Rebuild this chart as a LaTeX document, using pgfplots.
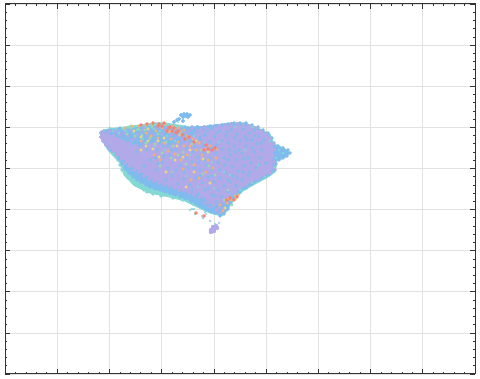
\documentclass[border=0pt]{standalone}
\usepackage{pgfplots}
\pgfplotsset{compat=1.18}
\definecolor{lil}{HTML}{B2A9E8}
\definecolor{blu}{HTML}{7FBBEE}
\definecolor{tea}{HTML}{84DAD2}
\definecolor{ora}{HTML}{F8B172}
\definecolor{red2}{HTML}{F87F72}
\definecolor{yel}{HTML}{EFD97C}
\definecolor{gre}{HTML}{9FDBA8}
\definecolor{gridc}{HTML}{E2E2E2}
\definecolor{axc}{HTML}{333333}
\begin{document}
\begin{tikzpicture}[x=1pt,y=1pt]
\path[use as bounding box] (-5,-5) rectangle (475,374);
\begin{axis}[
 at={(0pt,0pt)},anchor=south west,
 scale only axis,width=470pt,height=370pt,
 xmin=5,xmax=475,ymin=4,ymax=374,y dir=reverse,
 xtick={5,57.2,109.4,161.7,213.9,266.1,318.3,370.6,422.8,475},
 ytick={4,45.1,86.2,127.3,168.4,209.6,250.7,291.8,332.9,374},
 minor xtick={15.4,25.9,36.3,46.8,67.7,78.1,88.6,99,119.9,130.3,140.8,151.2,172.1,182.6,193,203.4,224.3,234.8,245.2,255.7,276.5,287,297.4,307.9,328.8,339.2,349.7,360.1,381,391.4,401.9,412.3,433.2,443.7,454.1,464.6},
 minor ytick={12.2,20.4,28.7,36.9,53.3,61.6,69.8,78,94.4,102.7,110.9,119.1,135.6,143.8,152,160.2,176.7,184.9,193.1,201.3,217.8,226,234.2,242.4,258.9,267.1,275.3,283.6,300,308.2,316.4,324.7,341.1,349.3,357.6,365.8},
 xticklabels={},yticklabels={},
 tick align=inside,
 major tick length=5pt,minor tick length=2.4pt,
 tick style={axc,line width=0.7pt},
 minor tick style={axc,line width=0.7pt},
 xtick pos=both,ytick pos=both,
 grid=major,major grid style={gridc,line width=0.7pt},
 axis line style={axc,line width=1pt},
 clip=false,
]
% outer teal body
\addplot[fill=tea,draw=tea,line width=1pt,line join=round] coordinates {
(100,132)(108,129)(125,127)(140,125)(155,123)(165,123)(178,125)(190,127)(200,127)(215,125)(230,123)(245,123)(258,128)(270,134)(274,144)(284,148)(290,153)(286,157)(277,161)(275,172)(268,177)(255,184)(243,191)(232,202)(227,211)(222,216)(210,213)(195,206)(185,201)(170,197)(150,193)(135,186)(124,175)(120,163)(108,150)(102,140)} -- cycle;
\addplot[only marks,mark=*,mark size=1.5pt,mark options={tea,draw=none}] coordinates {
(118,160)(120,165)(122,170)(125,174)(128,178)(132,182)(136,185)(140,187)(144,190)(149,191)(153,194)(158,193)(163,195)(168,195)(173,198)(178,197)(183,200)(188,201)(193,204)(116,156)(113,153)(122,166)(127,176)(134,184)(142,188)(147,192)(156,192)(161,196)(171,196)(181,199)};
% blue body
\addplot[fill=blu,draw=blu,line width=1pt,line join=round] coordinates {
(101,131)(115,129)(135,128)(155,126)(178,128)(200,127)(215,125)(230,124)(245,124)(258,129)(269,135)(273,145)(284,149)(289,153)(285,156)(276,160)(274,171)(267,176)(254,183)(242,190)(231,201)(227,210)(222,215)(210,212)(195,204)(180,197)(165,192)(150,187)(136,179)(125,169)(120,160)(108,149)(102,139)} -- cycle;
\addplot[only marks,mark=*,mark size=1.5pt,mark options={blu,draw=none}] coordinates {
(119,159)(122,164)(125,169)(129,173)(133,177)(137,180)(141,182)(146,185)(150,187)(155,189)(160,190)(165,192)(170,193)(175,195)(180,197)(185,198)(190,200)(195,203)(200,206)(205,208)(210,210)(215,213)(220,216)(224,214)(228,209)(231,203)(235,197)(240,192)(246,188)(252,184)(259,180)(265,177)(270,174)(275,170)(276,164)(279,160)(283,158)(287,156)(290,153)(288,150)(283,148)(278,146)(274,143)(272,138)(268,133)(263,130)(258,127)(252,125)(246,123)(240,123)(234,123)(228,124)(222,125)(216,126)(210,126)(204,127)(198,127)(192,127)};
% lilac body
\addplot[fill=lil,draw=lil,line width=1pt,line join=round] coordinates {
(101,133)(112,136)(125,141)(140,146)(155,142)(172,145)(190,138)(205,130)(220,127)(235,126)(248,127)(260,131)(269,137)(273,147)(272,158)(272,170)(264,175)(252,181)(240,188)(230,195)(222,205)(212,204)(200,195)(186,191)(170,185)(155,180)(142,172)(130,165)(120,156)(112,148)(102,139)} -- cycle;
\addplot[only marks,mark=*,mark size=1.9pt,mark options={lil,draw=none}] coordinates {
(101,133)(101,137)(103,141)(106,145)(110,148)(113,151)(117,155)(121,159)(125,163)(129,166)(134,170)(139,172)(144,176)(149,179)(154,181)(159,183)(164,185)(169,186)(174,188)(179,190)(184,191)(189,193)(194,195)(199,197)(204,200)(209,203)(214,205)(219,208)(223,209)(227,203)(230,197)(235,192)(240,188)(246,185)(252,182)(258,179)(264,176)(270,173)(274,168)(274,162)(273,156)(274,150)(273,144)(270,139)(266,134)(261,131)(255,128)(249,126)(243,125)(237,124)(231,124)(225,125)(219,126)(213,127)(207,129)(201,130)(104,131)(108,133)(113,136)(118,139)(212,207)(216,210)(220,212)(209,206)(205,203)};
% tail and stray points
\addplot[only marks,mark=*,mark size=2pt,mark options={lil,draw=none}] coordinates {
(213,227)(216,226)(211,230)(214,229)(217,228)(211,232)(214,231)};
\addplot[only marks,mark=*,mark size=1.8pt,mark options={blu,draw=none}] coordinates {
(181,115)(184,114)(187,114)(190,115)(186,116)(183,117)(188,117)(179,119)(177,120)(174,122)(183,121)};
\addplot[only marks,mark=*,mark size=1.2pt,mark options={blu,draw=none,opacity=0.6}] coordinates {
(192,209)(205,212)(203,218)(210,221)(219,223)};
\addplot[only marks,mark=*,mark size=1.2pt,mark options={tea,draw=none,opacity=0.7}] coordinates {
(195,214)(202,216)(215,224)(178,122)(171,125)(190,210)(194,209)(206,214)};
% top-left mottling
\addplot[only marks,mark=*,mark size=1.6pt,mark options={blu,draw=none,opacity=0.85}] coordinates {
(106,131)(111,133)(117,131)(122,135)(128,133)(133,137)(139,135)(145,138)(151,134)(157,137)(163,133)(169,138)(175,134)(181,138)(187,132)(193,135)(199,131)(205,135)(211,129)(143,130)(135,129)(149,129)(155,132)(161,128)(167,130)(173,128)(179,130)(185,127)(191,130)(197,127)(126,130)(120,128)(152,141)(160,143)(168,146)(176,142)(184,141)(192,141)(200,137)(146,146)(136,142)};
\addplot[only marks,mark=*,mark size=1.8pt,mark options={lil,draw=none,opacity=0.85}] coordinates {
(110,130)(118,132)(124,133)(131,130)(138,134)(144,128)(150,132)(156,129)(162,134)(168,127)(174,132)(180,129)(186,133)(192,128)(197,131)(128,136)(135,138)(147,136)(153,135)(165,130)(177,136)(183,137)(189,131)(142,131)(159,127)(171,135)(200,130)(204,127)(120,135)(115,132)(150,140)(158,140)(165,138)(174,139)(182,140)(190,136)(196,134)(142,142)(132,140)};
% blue speckle
\addplot[only marks,mark=*,mark size=1.5pt,mark options={blu,draw=none,opacity=0.85}] coordinates {
(150,142)(157,150)(163,146)(170,144)(176,150)(181,143)(186,148)(190,141)(195,147)(200,139)(205,135)(210,142)(215,137)(220,131)(226,136)(231,130)(237,134)(243,129)(249,133)(254,130)(259,136)(264,140)(262,150)(257,144)(252,140)(246,146)(240,141)(234,146)(228,143)(222,149)(216,153)(210,158)(204,153)(198,157)(192,162)(186,158)(180,165)(174,160)(168,168)(162,162)(156,170)(150,160)(144,166)(200,170)(206,165)(212,170)(218,163)(224,158)(230,155)(236,160)(242,153)(248,158)(254,152)(260,158)(266,163)(256,168)(250,172)(244,166)(238,171)(232,167)(226,173)(220,178)(214,182)(208,177)(202,183)(196,178)(190,185)(184,179)(178,184)(172,176)(166,180)(205,190)(212,195)(218,190)(224,186)(230,182)(236,186)(242,180)(248,176)(228,192)(222,197)(216,202)(210,205)(204,200)(198,194)(192,190)(214,208)(220,210)(226,206)(221,204)(232,196)(212,128)(207,131)(217,133)(227,132)(235,138)(245,137)(252,148)(239,150)(225,165)(233,176)(244,159)(211,148)(203,146)(193,152)(184,172)(176,170)(199,162)(188,168)(172,150)(164,156)(155,158)(147,150)(140,146)(133,144)(127,141)(137,152)(222,141)(229,150)(216,145)(205,160)(212,176)(220,170)(228,160)(235,152)(247,140)(255,136)(261,143)(259,165)(251,163)(243,172)(237,178)(228,180)(215,196)(208,188)(200,176)(194,168)(182,156)(170,156)(158,164)};
% lilac over the speckle
\addplot[only marks,mark=*,mark size=1.8pt,mark options={lil,draw=none,opacity=0.8}] coordinates {
(225,130)(233,128)(241,132)(250,130)(258,134)(265,144)(268,152)(263,156)(255,148)(247,152)(238,146)(230,138)(222,135)(214,140)(208,148)(214,158)(221,155)(231,162)(240,158)(250,166)(258,172)(246,178)(236,182)(226,188)(216,186)(208,193)(214,201)(203,186)(194,183)(186,178)(176,176)(166,174)(160,172)(172,164)(182,160)(190,166)(200,166)(208,170)(198,172)(190,158)(179,152)(167,160)(155,165)(149,170)(197,152)(204,142)(189,176)(222,176)(235,168)(245,143)(219,198)};
\addplot[only marks,mark=*,mark size=1.2pt,mark options={tea,draw=none,opacity=0.8}] coordinates {
(104,130)(110,128)(116,129)(122,128)(128,128)(134,127)(140,126)(146,127)(113,131)(119,133)(126,131)(133,133)(140,130)(147,133)(154,129)(130,126)(137,130)(160,131)(167,136)(175,141)(186,139)(194,136)(205,143)(219,142)(235,127)(252,127)(270,141)(279,150)(265,177)(252,183)(240,190)(186,176)(172,172)(198,187)(214,188)(230,175)(155,146)(143,139)(165,150)(190,155)(212,162)(224,172)(245,150)(258,165)(283,153)(276,158)(274,167)};
\addplot[only marks,mark=*,mark size=1.3pt,mark options={gre,draw=none,opacity=0.9}] coordinates {
(124,129)(131,128)(138,129)(145,130)(152,127)(127,134)(135,136)(142,135)(150,138)(158,134)(166,142)(173,146)(146,143)(155,144)(162,153)(178,155)(183,152)(192,144)(201,150)(209,166)(160,166)(171,158)(186,164)(215,175)(228,190)(224,200)(203,174)(232,205)};
\addplot[only marks,mark=*,mark size=1.3pt,mark options={yel,draw=none,opacity=0.95}] coordinates {
(134,131)(141,137)(148,141)(153,149)(158,141)(148,129)(164,138)(170,131)(177,146)(183,157)(190,150)(196,141)(203,159)(208,152)(159,157)(146,146)(175,160)(166,172)(194,172)(210,183)(186,187)(228,199)(236,199)(225,208)(180,135)(141,150)};
\addplot[only marks,mark=*,mark size=1.35pt,mark options={ora,draw=none,opacity=0.95}] coordinates {
(125,128)(132,126)(139,126)(146,125)(152,124)(158,125)(165,124)(172,126)(178,128)(184,130)(156,131)(162,128)(169,132)(175,129)(181,132)(187,136)(193,139)(199,143)(205,149)(210,146)(217,149)(151,136)(158,138)(164,143)(171,139)(178,142)(184,146)(190,146)(196,150)(202,155)(208,160)(168,151)(175,154)(154,155)(160,160)(146,133)(141,141)(181,160)(187,155)(194,165)(216,158)(213,168)(199,178)(191,180)(220,205)(227,203)(231,200)(235,196)(223,211)(238,195)(206,172)(183,169)};
\addplot[only marks,mark=*,mark size=1.5pt,mark options={red2,draw=none,opacity=0.95}] coordinates {
(141,125)(147,124)(153,123)(159,124)(164,123)(169,128)(172,131)(176,133)(170,127)(174,128)(182,135)(185,139)(189,137)(194,142)(158,126)(204,150)(208,149)(212,150)(215,148)(206,145)(230,198)(234,200)(227,200)(237,197)(196,213)(204,216)(167,131)(162,126)(178,131)};
\end{axis}
\end{tikzpicture}
\end{document}
